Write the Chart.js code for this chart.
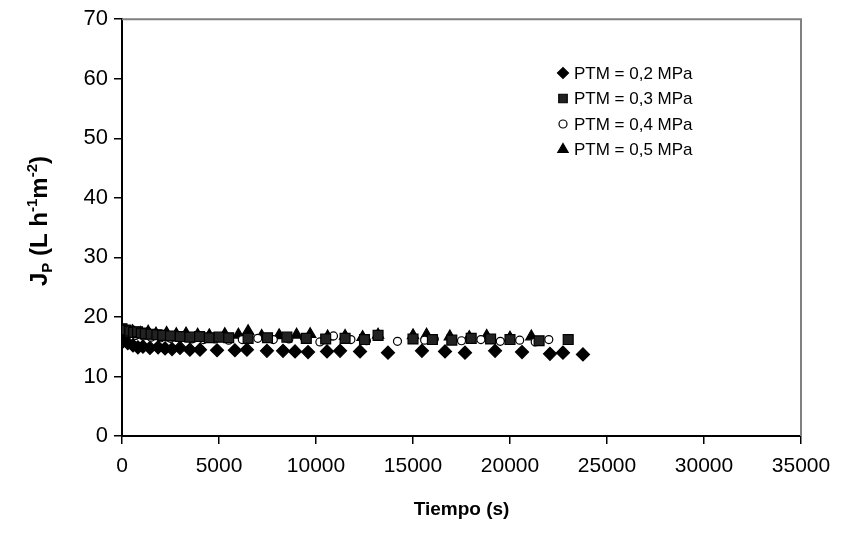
<!DOCTYPE html>
<html>
<head>
<meta charset="utf-8">
<script src="https://cdn.jsdelivr.net/npm/chart.js@4/dist/chart.umd.min.js"></script>
<style>
html,body{margin:0;padding:0;background:#fff;}
#wrap{width:841px;height:551px;position:relative;}
</style>
</head>
<body>
<div id="wrap"><canvas id="c" width="841" height="551"></canvas></div>
<script>
// ---- data ----
const seriesLabels = ["PTM = 0,2 MPa", "PTM = 0,3 MPa", "PTM = 0,4 MPa", "PTM = 0,5 MPa"];

const time02 = [50, 300, 570, 820, 1080, 1440, 1860, 2220, 2580, 2990, 3500, 4020, 4900, 5820, 6440, 7470, 8300, 8920, 9590, 10570, 11240, 12270, 13710, 15460, 16650, 17680, 19230, 20620, 22060, 22730, 23760];
const flux02 = [15.9, 15.6, 15.2, 14.9, 15.0, 14.8, 14.9, 14.7, 14.6, 14.8, 14.5, 14.5, 14.4, 14.4, 14.5, 14.3, 14.3, 14.2, 14.1, 14.2, 14.3, 14.2, 14.0, 14.3, 14.2, 14.0, 14.3, 14.1, 13.8, 14.0, 13.7];

const time03 = [0, 200, 400, 600, 800, 1000, 1200, 1500, 1800, 2100, 2500, 3000, 3500, 4000, 4500, 5000, 5500, 6500, 7500, 8500, 9500, 10500, 11500, 12500, 13200, 15000, 16000, 17000, 18000, 19000, 20000, 21500, 23000];
const flux03 = [18.0, 17.8, 17.6, 17.4, 17.5, 17.3, 17.2, 17.1, 17.0, 16.9, 16.8, 16.7, 16.6, 16.7, 16.5, 16.6, 16.5, 16.4, 16.5, 16.6, 16.4, 16.3, 16.4, 16.2, 16.9, 16.3, 16.2, 16.1, 16.4, 16.3, 16.2, 16.0, 16.2];

const time04 = [300, 700, 1100, 1500, 2000, 2500, 3000, 3600, 4200, 4800, 5500, 6200, 7000, 7800, 8600, 9400, 10200, 10900, 11800, 12600, 14200, 15600, 16100, 17500, 18500, 19500, 20500, 21300, 22000];
const flux04 = [17.2, 16.9, 16.8, 16.6, 16.5, 16.4, 16.4, 16.3, 16.2, 16.3, 16.1, 16.2, 16.4, 16.2, 16.3, 16.5, 15.8, 16.8, 16.2, 16.0, 15.9, 16.1, 16.3, 16.0, 16.2, 15.9, 16.1, 15.8, 16.2];

const time05 = [150, 550, 950, 1350, 1750, 2300, 2800, 3300, 3900, 4500, 5300, 6000, 6500, 7200, 8100, 9000, 9700, 10600, 11500, 12400, 13200, 15000, 15700, 16900, 17900, 18800, 20000, 21100];
const flux05 = [17.4, 17.6, 17.3, 17.5, 17.2, 17.3, 17.1, 17.2, 17.0, 16.9, 17.1, 17.0, 17.6, 16.8, 16.9, 17.0, 17.1, 16.7, 16.8, 16.6, 17.0, 16.9, 17.0, 16.7, 16.6, 16.8, 16.5, 16.7];

const xTicks = [0, 5000, 10000, 15000, 20000, 25000, 30000, 35000];
const yTicks = [0, 10, 20, 30, 40, 50, 60, 70];

// ---- build datasets ----
function pts(xs, ys){ return xs.map((x,i)=>({x:x, y:ys[i]})); }
const styles = [
  {pointStyle:'rectRot', radius:6.5, bg:'#000', bd:'#000', lr:5.5},
  {pointStyle:'rect', radius:7, bg:'#222', bd:'#000', lr:6},
  {pointStyle:'circle', radius:4, bg:'#fff', bd:'#000', lr:4},
  {pointStyle:'triangle', radius:6.5, bg:'#000', bd:'#000', lr:6}
];
const allX = [time02, time03, time04, time05];
const allY = [flux02, flux03, flux04, flux05];
const datasets = allX.map((xs,i)=>({
  label: seriesLabels[i],
  data: pts(xs, allY[i]),
  pointStyle: styles[i].pointStyle,
  pointRadius: styles[i].radius,
  pointHoverRadius: styles[i].radius,
  pointBackgroundColor: styles[i].bg,
  pointBorderColor: styles[i].bd,
  pointBorderWidth: 1.2,
  showLine: false
}));

const FONT = "'Liberation Sans', Arial, sans-serif";

const decor = {
  id: 'decor',
  afterDraw(chart){
    const ctx = chart.ctx;
    const a = chart.chartArea;
    ctx.save();
    // gray top and right frame
    ctx.strokeStyle = '#808080';
    ctx.lineWidth = 2;
    ctx.beginPath();
    ctx.moveTo(a.left, a.top);
    ctx.lineTo(a.right, a.top);
    ctx.lineTo(a.right, a.bottom);
    ctx.stroke();

    // legend
    const lx = 563, ly0 = 73, dy = 25.5;
    ctx.textBaseline = 'middle';
    ctx.textAlign = 'left';
    for (let i=0;i<4;i++){
      const y = ly0 + dy*i;
      ctx.fillStyle = styles[i].bg;
      ctx.strokeStyle = '#000';
      ctx.lineWidth = 1.2;
      Chart.helpers.drawPoint(ctx, {pointStyle: styles[i].pointStyle, radius: styles[i].lr, rotation:0, borderWidth:1.2}, lx, y);
      ctx.fillStyle = '#000';
      ctx.font = "17px " + FONT;
      ctx.fillText(seriesLabels[i], lx + 11, y + 1);
    }

    // x title
    ctx.fillStyle = '#000';
    ctx.font = "bold 19px " + FONT;
    ctx.textAlign = 'center';
    ctx.textBaseline = 'alphabetic';
    ctx.fillText('Tiempo (s)', (a.left + a.right)/2, 515);

    // y title with sub/superscripts
    const parts = [
      {t:'J', f:"bold 24px ", dy:0},
      {t:'P', f:"bold 15px ", dy:5},
      {t:' (L h', f:"bold 24px ", dy:0},
      {t:'-1', f:"bold 15px ", dy:-10},
      {t:'m', f:"bold 24px ", dy:0},
      {t:'-2', f:"bold 15px ", dy:-10},
      {t:')', f:"bold 24px ", dy:0}
    ];
    let total = 0;
    parts.forEach(p=>{ ctx.font = p.f + FONT; p.w = ctx.measureText(p.t).width; total += p.w; });
    ctx.translate(47, 221);
    ctx.rotate(-Math.PI/2);
    ctx.textAlign = 'left';
    let x = -total/2;
    parts.forEach(p=>{ ctx.font = p.f + FONT; ctx.fillText(p.t, x, p.dy); x += p.w; });
    ctx.restore();
  }
};

new Chart(document.getElementById('c'), {
  type: 'scatter',
  data: { datasets },
  options: {
    responsive: false,
    animation: false,
    devicePixelRatio: 1,
    layout: { padding: { left: 0, right: 40, top: 17, bottom: 0 } },
    plugins: { legend: { display: false }, tooltip: { enabled: false } },
    scales: {
      x: {
        type: 'linear',
        min: 0, max: 35000,
        afterBuildTicks(s){ s.ticks = xTicks.map(v=>({value:v})); },
        afterFit(s){ s.height = 115; },
        grid: { display: true, drawOnChartArea: false, drawTicks: true, tickLength: 8, color: '#000', lineWidth: 1.5 },
        border: { display: true, color: '#000', width: 2 },
        ticks: { color: '#000', font: { family: FONT, size: 21 }, padding: 10, maxRotation: 0, autoSkip: false,
                 callback: (v)=>String(v) }
      },
      y: {
        type: 'linear',
        min: 0, max: 70,
        afterBuildTicks(s){ s.ticks = yTicks.map(v=>({value:v})); },
        afterFit(s){ s.width = 122; },
        grid: { display: true, drawOnChartArea: false, drawTicks: true, tickLength: 8, color: '#000', lineWidth: 1.5 },
        border: { display: true, color: '#000', width: 2 },
        ticks: { color: '#000', font: { family: FONT, size: 22 }, padding: 6, autoSkip: false,
                 callback: (v)=>String(v) }
      }
    }
  },
  plugins: [decor]
});
</script>
</body>
</html>
